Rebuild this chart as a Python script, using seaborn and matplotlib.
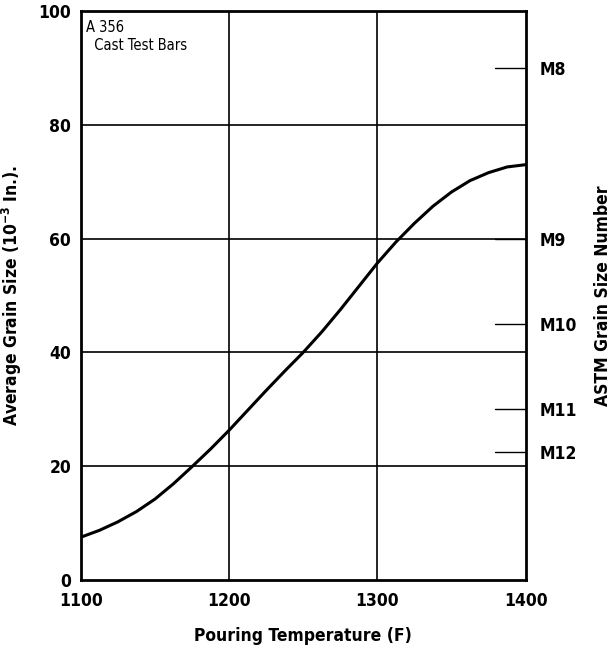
import matplotlib
matplotlib.use("Agg")
import matplotlib.pyplot as plt
import seaborn as sns
import pandas as pd
from matplotlib import font_manager

# Data
temps = [1100, 1112.5, 1125, 1137.5, 1150, 1162.5, 1175, 1187.5, 1200, 1212.5,
         1225, 1237.5, 1250, 1262.5, 1275, 1287.5, 1300, 1312.5, 1325, 1337.5,
         1350, 1362.5, 1375, 1387.5, 1400]
grain = [7.5, 8.7, 10.2, 12.0, 14.2, 16.9, 19.9, 23.0, 26.3, 29.8,
         33.3, 36.7, 40.0, 43.6, 47.5, 51.6, 55.7, 59.4, 62.7, 65.7,
         68.2, 70.2, 71.6, 72.6, 73.0]
astm_vals = [90, 60, 45, 30, 22.5]
astm_labels = ["M8", "M9", "M10", "M11", "M12"]
x_ticks = [1100, 1200, 1300, 1400]
y_ticks = [0, 20, 40, 60, 80, 100]

sns.set_theme(style="white")
cond = any(("Condensed" in f.fname and "DejaVu" in f.fname) or
           (f.name == "DejaVu Sans" and "ondensed" in str(f.stretch))
           for f in font_manager.fontManager.ttflist)
plt.rcParams["font.family"] = ["DejaVu Sans"]
STRETCH = "condensed" if cond else "normal"
plt.rcParams["font.stretch"] = STRETCH
plt.rcParams["mathtext.fontset"] = "dejavusans"
for k in ["text.color", "axes.labelcolor", "xtick.color", "ytick.color"]:
    plt.rcParams[k] = "black"

df = pd.DataFrame({"T": temps, "G": grain})

fig = plt.figure(figsize=(6.12, 6.53), dpi=100)
ax = fig.add_axes([0.132, 0.112, 0.727, 0.871])

for v in [1200, 1300]:
    ax.axvline(v, color="black", lw=1.2, zorder=1)
for v in [20, 40, 60, 80]:
    ax.axhline(v, color="black", lw=1.2, zorder=1)
for v in astm_vals:
    ax.axhline(v, xmin=0.93, xmax=1.0, color="black", lw=1.0, zorder=1)

sns.lineplot(data=df, x="T", y="G", ax=ax, color="black", lw=2.2, zorder=3)

ax.set_xlim(1100, 1400)
ax.set_ylim(0, 100)
ax.set_xticks(x_ticks)
ax.set_yticks(y_ticks)
ax.tick_params(axis="x", labelsize=12.5, length=0, pad=9)
ax.tick_params(axis="y", labelsize=12.5, length=0, pad=7)
for lab in ax.get_xticklabels() + ax.get_yticklabels():
    lab.set_fontweight("bold")
    lab.set_fontstretch(STRETCH)
ax.set_xlabel("Pouring Temperature (F)", fontsize=12.5, fontweight="bold",
              fontstretch=STRETCH, labelpad=12)
ax.set_ylabel(r"Average Grain Size (10$^{\mathbf{-3}}$ In.).", fontsize=12.5,
              fontweight="bold", fontstretch=STRETCH, labelpad=10)
for s in ax.spines.values():
    s.set_color("black")
    s.set_linewidth(2)

ax.text(0.012, 0.985, "A 356\n  Cast Test Bars", transform=ax.transAxes,
        ha="left", va="top", fontsize=10.5, linespacing=1.3, fontstretch=STRETCH)

ax2 = ax.twinx()
ax2.set_ylim(0, 100)
ax2.set_yticks(astm_vals)
ax2.set_yticklabels(astm_labels)
ax2.tick_params(axis="y", length=0, pad=10, labelsize=12.5)
for lab in ax2.get_yticklabels():
    lab.set_fontweight("bold")
    lab.set_fontstretch(STRETCH)
ax2.set_ylabel("ASTM Grain Size Number", fontsize=12.5, fontweight="bold",
               fontstretch=STRETCH, labelpad=12)
for s in ax2.spines.values():
    s.set_visible(False)

fig.savefig("out.png", dpi=100)
